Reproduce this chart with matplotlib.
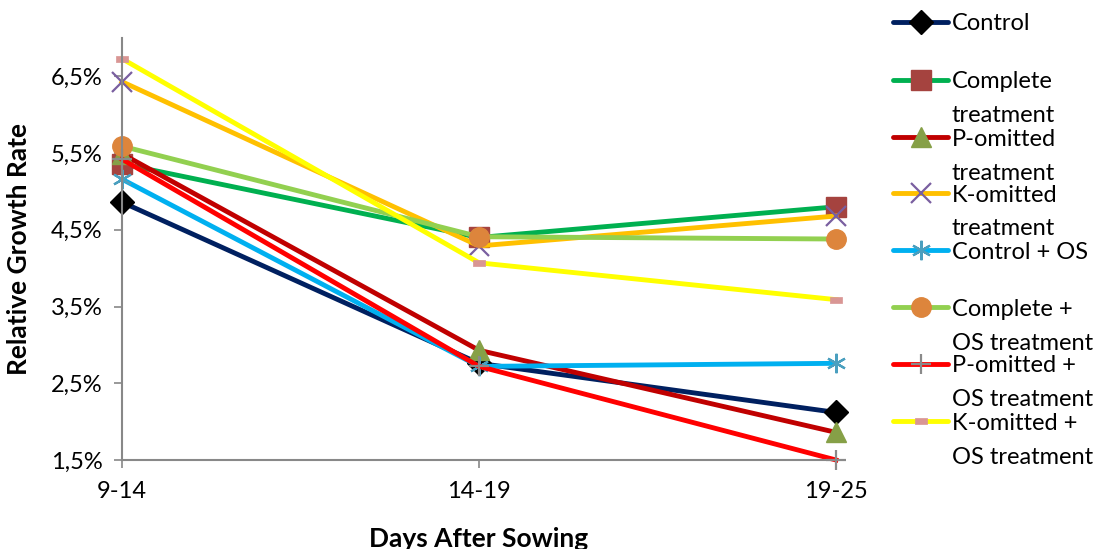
import matplotlib
matplotlib.use("Agg")
import matplotlib.pyplot as plt
from matplotlib.lines import Line2D
from matplotlib.ticker import FuncFormatter, FixedLocator

plt.rcParams['font.family'] = ['Lato', 'DejaVu Sans']

# === DATA ===
periods = ["9-14", "14-19", "19-25"]
control = [4.86, 2.76, 2.12]
complete = [5.36, 4.40, 4.80]
p_omitted = [5.49, 2.93, 1.86]
k_omitted = [6.43, 4.29, 4.68]
control_os = [5.16, 2.72, 2.76]
complete_os = [5.59, 4.41, 4.38]
p_omitted_os = [5.42, 2.72, 1.50]
k_omitted_os = [6.73, 4.07, 3.59]

labels = ["Control", "Complete\ntreatment", "P-omitted\ntreatment", "K-omitted\ntreatment",
          "Control + OS", "Complete +\nOS treatment", "P-omitted +\nOS treatment", "K-omitted +\nOS treatment"]

# pink rectangle marker used by the last series
rect = [(-1, -0.45), (1, -0.45), (1, 0.45), (-1, 0.45), (-1, -0.45)]

# (line colour, marker, marker face, marker edge, marker size, marker edge width)
styles = [
    ("#002060", "D", "#000000", "#000000", 12, 1),
    ("#00B050", "s", "#A5433F", "#A5433F", 14, 1),
    ("#C00000", "^", "#86A047", "#86A047", 15, 1),
    ("#FFC000", "x", "none", "#7A5FA0", 14, 1.6),
    ("#00B0F0", (6, 2, 0), "none", "#4A9FBF", 14, 1.6),
    ("#92D050", "o", "#DD853C", "#DD853C", 14, 1),
    ("#FF0000", "+", "none", "#8A8A8A", 14, 1.6),
    ("#FFFF00", rect, "#D99694", "#D99694", 8.5, 0.5),
]
series = [control, complete, p_omitted, k_omitted, control_os, complete_os, p_omitted_os, k_omitted_os]

# === FIGURE ===
fig = plt.figure(figsize=(11.03, 5.49), dpi=100)
ax = fig.add_axes([122 / 1103, 1 - 460 / 549, 714 / 1103, 422 / 549])

x = list(range(len(periods)))
for vals, (lc, mk, mfc, mec, ms, mew) in zip(series, styles):
    ax.plot(x, vals, color=lc, lw=3.5, marker=mk, markerfacecolor=mfc,
            markeredgecolor=mec, markersize=ms, markeredgewidth=mew, clip_on=False)

ax.set_xlim(0, 2)
ax.set_ylim(1.5, 7.0)
ax.set_xticks(x)
ax.set_xticklabels(periods)
ax.yaxis.set_major_locator(FixedLocator([1.5, 2.5, 3.5, 4.5, 5.5, 6.5]))
ax.yaxis.set_major_formatter(FuncFormatter(lambda v, p: f"{v:.1f}%".replace(".", ",")))
ax.tick_params(axis='y', labelsize=17, length=6, color="#888888", width=1.2, pad=8)
ax.tick_params(axis='x', labelsize=17, length=6, color="#888888", width=1.2, pad=9)

for s in ["top", "right"]:
    ax.spines[s].set_visible(False)
for s in ["left", "bottom"]:
    ax.spines[s].set_color("#888888")
    ax.spines[s].set_linewidth(1.5)

ax.set_ylabel("Relative Growth Rate", fontsize=19, fontweight="bold", labelpad=14)
ax.set_xlabel("Days After Sowing", fontsize=19, fontweight="bold", labelpad=18)

# === LEGEND (drawn by hand, wrapped text hangs below the handle) ===
entry_y = [22, 80, 137, 193, 250, 307, 364, 421]
for lab, yy, (lc, mk, mfc, mec, ms, mew) in zip(labels, entry_y, styles):
    fy = 1 - yy / 549
    fig.add_artist(Line2D([893 / 1103, 948 / 1103], [fy, fy], color=lc, lw=3.5,
                          solid_capstyle='round', transform=fig.transFigure))
    fig.add_artist(Line2D([920.5 / 1103], [fy], marker=mk, markerfacecolor=mfc,
                          markeredgecolor=mec, markersize=ms, markeredgewidth=mew,
                          transform=fig.transFigure))
    lines = lab.split("\n")
    for i, t in enumerate(lines):
        fig.text(952 / 1103, 1 - (yy + 2 + 34 * i) / 549, t, fontsize=17, va="center", ha="left")

fig.savefig("out.png", dpi=100)
